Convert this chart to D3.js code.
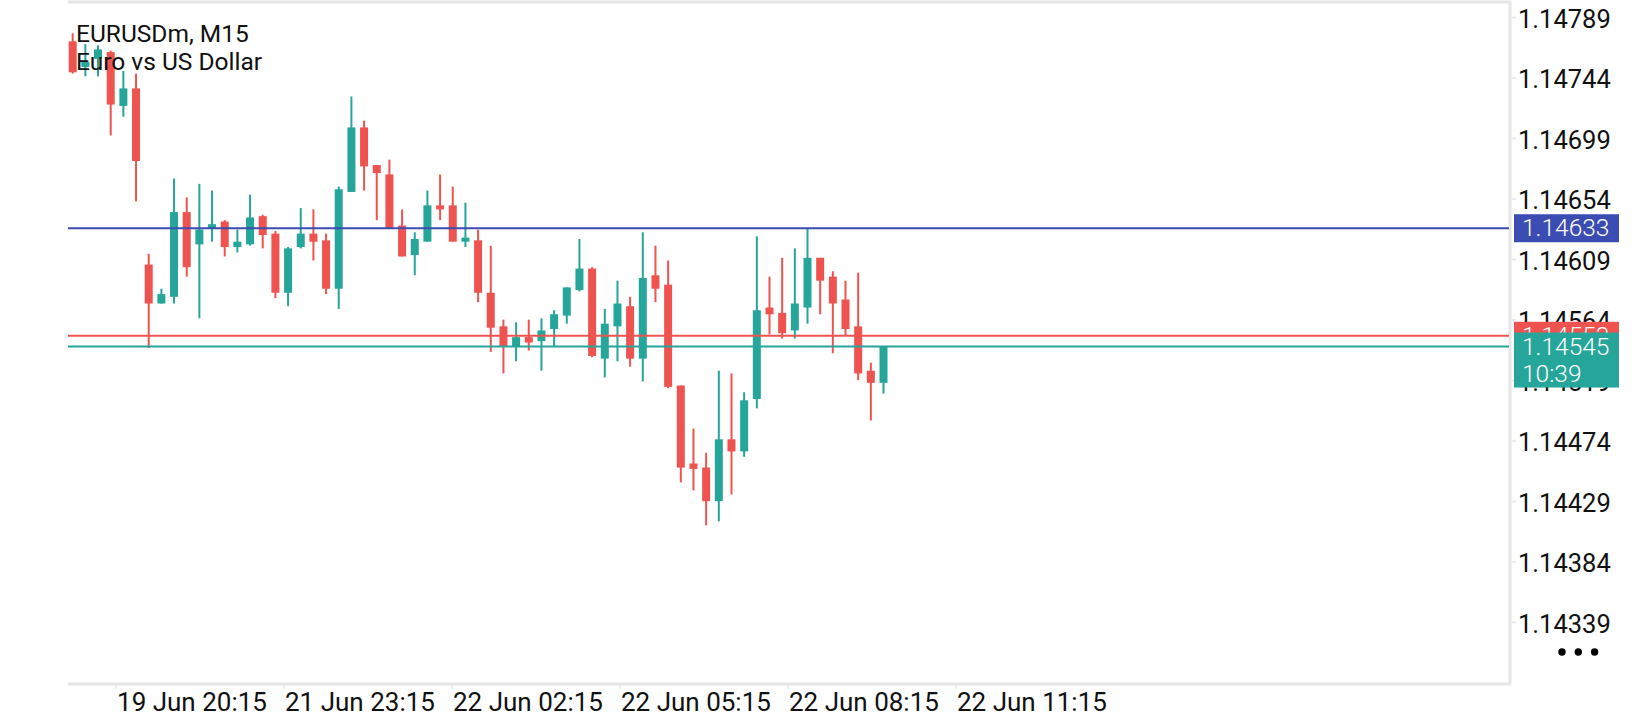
<!DOCTYPE html>
<html>
<head>
<meta charset="utf-8">
<script src="https://cdn.jsdelivr.net/npm/d3@7"></script>
<style>
  html, body { margin: 0; padding: 0; background: #ffffff; }
  #chart { width: 1640px; height: 720px; }
</style>
</head>
<body>
<div id="chart"></div>
<script>
// EURUSDm M15 candles (oldest -> newest)
var opens = [1.14772, 1.14753, 1.14759, 1.14764, 1.14724, 1.14737, 1.14606, 1.14577, 1.14582, 1.14645,
    1.14621, 1.14633, 1.14638, 1.14619, 1.14621, 1.14642, 1.14629, 1.14585, 1.14619, 1.14629,
    1.14624, 1.14588, 1.14660, 1.14708, 1.14680, 1.14673, 1.14635, 1.14613, 1.14623, 1.14650,
    1.14650, 1.14623, 1.14624, 1.14585, 1.14560, 1.14545, 1.14552, 1.14549, 1.14558, 1.14568,
    1.14587, 1.14603, 1.14536, 1.14560, 1.14575, 1.14536, 1.14598, 1.14591, 1.14516, 1.14458,
    1.14455, 1.14430, 1.14476, 1.14467, 1.14506, 1.14574, 1.14570, 1.14557, 1.14574, 1.14611,
    1.14597, 1.14580, 1.14560, 1.14527, 1.14518];
var highs = [1.14778, 1.14770, 1.14769, 1.14765, 1.14750, 1.14748, 1.14614, 1.14588, 1.14670, 1.14656,
    1.14666, 1.14661, 1.14639, 1.14632, 1.14658, 1.14643, 1.14631, 1.14619, 1.14648, 1.14647,
    1.14629, 1.14664, 1.14731, 1.14713, 1.14680, 1.14684, 1.14647, 1.14630, 1.14661, 1.14673,
    1.14664, 1.14652, 1.14632, 1.14620, 1.14565, 1.14563, 1.14565, 1.14566, 1.14572, 1.14589,
    1.14625, 1.14604, 1.14573, 1.14594, 1.14582, 1.14630, 1.14620, 1.14609, 1.14516, 1.14484,
    1.14466, 1.14527, 1.14525, 1.14511, 1.14627, 1.14597, 1.14611, 1.14618, 1.14633, 1.14611,
    1.14601, 1.14594, 1.14600, 1.14533, 1.14545];
var lows = [1.14748, 1.14746, 1.14746, 1.14702, 1.14716, 1.14653, 1.14544, 1.14577, 1.14577, 1.14597,
    1.14566, 1.14623, 1.14612, 1.14615, 1.14620, 1.14618, 1.14581, 1.14575, 1.14618, 1.14609,
    1.14584, 1.14573, 1.14660, 1.14661, 1.14639, 1.14633, 1.14612, 1.14598, 1.14623, 1.14639,
    1.14623, 1.14619, 1.14578, 1.14541, 1.14525, 1.14534, 1.14542, 1.14527, 1.14545, 1.14562,
    1.14586, 1.14537, 1.14522, 1.14534, 1.14530, 1.14519, 1.14578, 1.14514, 1.14444, 1.14438,
    1.14412, 1.14415, 1.14435, 1.14463, 1.14499, 1.14554, 1.14551, 1.14551, 1.14562, 1.14569,
    1.14540, 1.14553, 1.14520, 1.14490, 1.14510];
var closes = [1.14749, 1.14757, 1.14766, 1.14725, 1.14737, 1.14683, 1.14577, 1.14584, 1.14645, 1.14604,
    1.14632, 1.14636, 1.14619, 1.14623, 1.14641, 1.14628, 1.14585, 1.14618, 1.14629, 1.14623,
    1.14588, 1.14662, 1.14708, 1.14679, 1.14674, 1.14633, 1.14612, 1.14625, 1.14650, 1.14647,
    1.14623, 1.14626, 1.14585, 1.14559, 1.14545, 1.14552, 1.14548, 1.14557, 1.14569, 1.14589,
    1.14603, 1.14538, 1.14562, 1.14577, 1.14536, 1.14596, 1.14588, 1.14515, 1.14455, 1.14454,
    1.14430, 1.14476, 1.14467, 1.14505, 1.14572, 1.14569, 1.14555, 1.14577, 1.14611, 1.14594,
    1.14577, 1.14558, 1.14525, 1.14518, 1.14545];

// price axis labels
var priceTicks = [1.14789, 1.14744, 1.14699, 1.14654, 1.14609, 1.14564, 1.14519, 1.14474, 1.14429, 1.14384, 1.14339];
// time labels and the bar position they sit at
var timeLabels = ["19 Jun 20:15", "21 Jun 23:15", "22 Jun 02:15", "22 Jun 05:15", "22 Jun 08:15", "22 Jun 11:15"];
var timeTickBars = [3.42, 16.68, 29.94, 43.2, 56.46, 69.72];

var levelLine = 1.14633;   // user horizontal line
var bidPrice = 1.14545;
var askPrice = 1.14553;
var timeLeft = "10:39";

var W = 1640, H = 720;
var left = 68, right = 1510, top = 3, bottom = 684;
var upColor = "#26a69a", downColor = "#ef5350", lineColor = "#3b4cb3";
var frameColor = "#e6e6e6", textColor = "#111111";
var fontFam = "Roboto, 'Noto Sans', sans-serif";

var svg = d3.select("#chart")
    .append("svg")
    .attr("width", W)
    .attr("height", H);

var x = d3.scaleLinear().domain([-0.37, 113.45]).range([left, right]);
var y = d3.scaleLinear().domain([1.14339, 1.14789]).range([623.5, 18.5]);

var candles = opens.map(function (o, i) {
    return { i: i, o: o, h: highs[i], l: lows[i], c: closes[i] };
});

// frame
svg.append("line").attr("x1", left).attr("x2", right + 1).attr("y1", 2).attr("y2", 2)
    .attr("stroke", frameColor).attr("stroke-width", 3);
svg.append("line").attr("x1", right).attr("x2", right).attr("y1", 1).attr("y2", bottom)
    .attr("stroke", frameColor).attr("stroke-width", 3);
svg.append("line").attr("x1", left).attr("x2", right + 1).attr("y1", bottom).attr("y2", bottom)
    .attr("stroke", frameColor).attr("stroke-width", 3);

// candles
var g = svg.append("g");
g.selectAll("line.wick")
    .data(candles)
    .enter()
    .append("line")
    .attr("class", "wick")
    .attr("x1", function (d) { return x(d.i); })
    .attr("x2", function (d) { return x(d.i); })
    .attr("y1", function (d) { return y(d.h); })
    .attr("y2", function (d) { return y(d.l); })
    .attr("stroke", function (d) { return d.c >= d.o ? upColor : downColor; })
    .attr("stroke-width", 2);
g.selectAll("rect.body")
    .data(candles)
    .enter()
    .append("rect")
    .attr("class", "body")
    .attr("x", function (d) { return x(d.i) - 4; })
    .attr("y", function (d) { return y(Math.max(d.o, d.c)); })
    .attr("width", 8)
    .attr("height", function (d) { return Math.max(2, y(Math.min(d.o, d.c)) - y(Math.max(d.o, d.c))); })
    .attr("fill", function (d) { return d.c >= d.o ? upColor : downColor; });

// horizontal lines
svg.append("line").attr("x1", left).attr("x2", right - 1)
    .attr("y1", y(levelLine)).attr("y2", y(levelLine))
    .attr("stroke", lineColor).attr("stroke-width", 2);
svg.append("line").attr("x1", left).attr("x2", right - 1)
    .attr("y1", y(askPrice)).attr("y2", y(askPrice))
    .attr("stroke", downColor).attr("stroke-width", 2);
svg.append("line").attr("x1", left).attr("x2", right - 1)
    .attr("y1", y(bidPrice)).attr("y2", y(bidPrice))
    .attr("stroke", upColor).attr("stroke-width", 2);

// symbol title
svg.append("text").attr("x", 76).attr("y", 42)
    .text("EURUSDm, M15")
    .attr("font-family", fontFam).attr("font-size", "24.5px").attr("fill", textColor);
svg.append("text").attr("x", 76).attr("y", 70)
    .text("Euro vs US Dollar")
    .attr("font-family", fontFam).attr("font-size", "24.5px").attr("fill", textColor);

// price scale
var yAxis = svg.append("g");
yAxis.selectAll("line")
    .data(priceTicks)
    .enter()
    .append("line")
    .attr("x1", right + 2).attr("x2", right + 6)
    .attr("y1", function (d) { return y(d) - 1; })
    .attr("y2", function (d) { return y(d) - 1; })
    .attr("stroke", frameColor).attr("stroke-width", 1.5);
yAxis.selectAll("text")
    .data(priceTicks)
    .enter()
    .append("text")
    .attr("x", right + 8)
    .attr("y", function (d) { return y(d) + 9; })
    .text(function (d) { return d.toFixed(5); })
    .attr("font-family", fontFam).attr("font-size", "25.5px").attr("fill", textColor);

// time scale
var xAxis = svg.append("g");
xAxis.selectAll("line")
    .data(timeTickBars)
    .enter()
    .append("line")
    .attr("x1", function (d) { return x(d); })
    .attr("x2", function (d) { return x(d); })
    .attr("y1", bottom + 1).attr("y2", bottom + 5)
    .attr("stroke", frameColor).attr("stroke-width", 1.5);
xAxis.selectAll("text")
    .data(timeTickBars)
    .enter()
    .append("text")
    .attr("x", function (d) { return x(d) + 1; })
    .attr("y", 711)
    .text(function (d, i) { return timeLabels[i]; })
    .attr("font-family", fontFam).attr("font-size", "26px").attr("fill", textColor);

// price tags on the right
function priceTag(price, color, lines, h) {
    var y0 = y(price) - 14;
    svg.append("rect")
        .attr("x", right + 4).attr("y", y0)
        .attr("width", 105).attr("height", h)
        .attr("fill", color);
    lines.forEach(function (t, k) {
        svg.append("text")
            .attr("x", right + 12)
            .attr("y", y0 + 22 + k * 27.5)
            .text(t)
            .attr("font-family", fontFam).attr("font-size", "24.5px")
            .attr("font-weight", 300)
            .attr("fill", "#ffffff");
    });
}
priceTag(levelLine, lineColor, [levelLine.toFixed(5)], 28);
priceTag(askPrice, downColor, [askPrice.toFixed(5)], 28);
priceTag(bidPrice, upColor, [bidPrice.toFixed(5), timeLeft], 55);

// menu dots
svg.selectAll("circle.dot")
    .data([0, 1, 2])
    .enter()
    .append("circle")
    .attr("class", "dot")
    .attr("cx", function (d) { return 1562 + d * 16.3; })
    .attr("cy", 652)
    .attr("r", 3.7)
    .attr("fill", "#000000");
</script>
</body>
</html>
